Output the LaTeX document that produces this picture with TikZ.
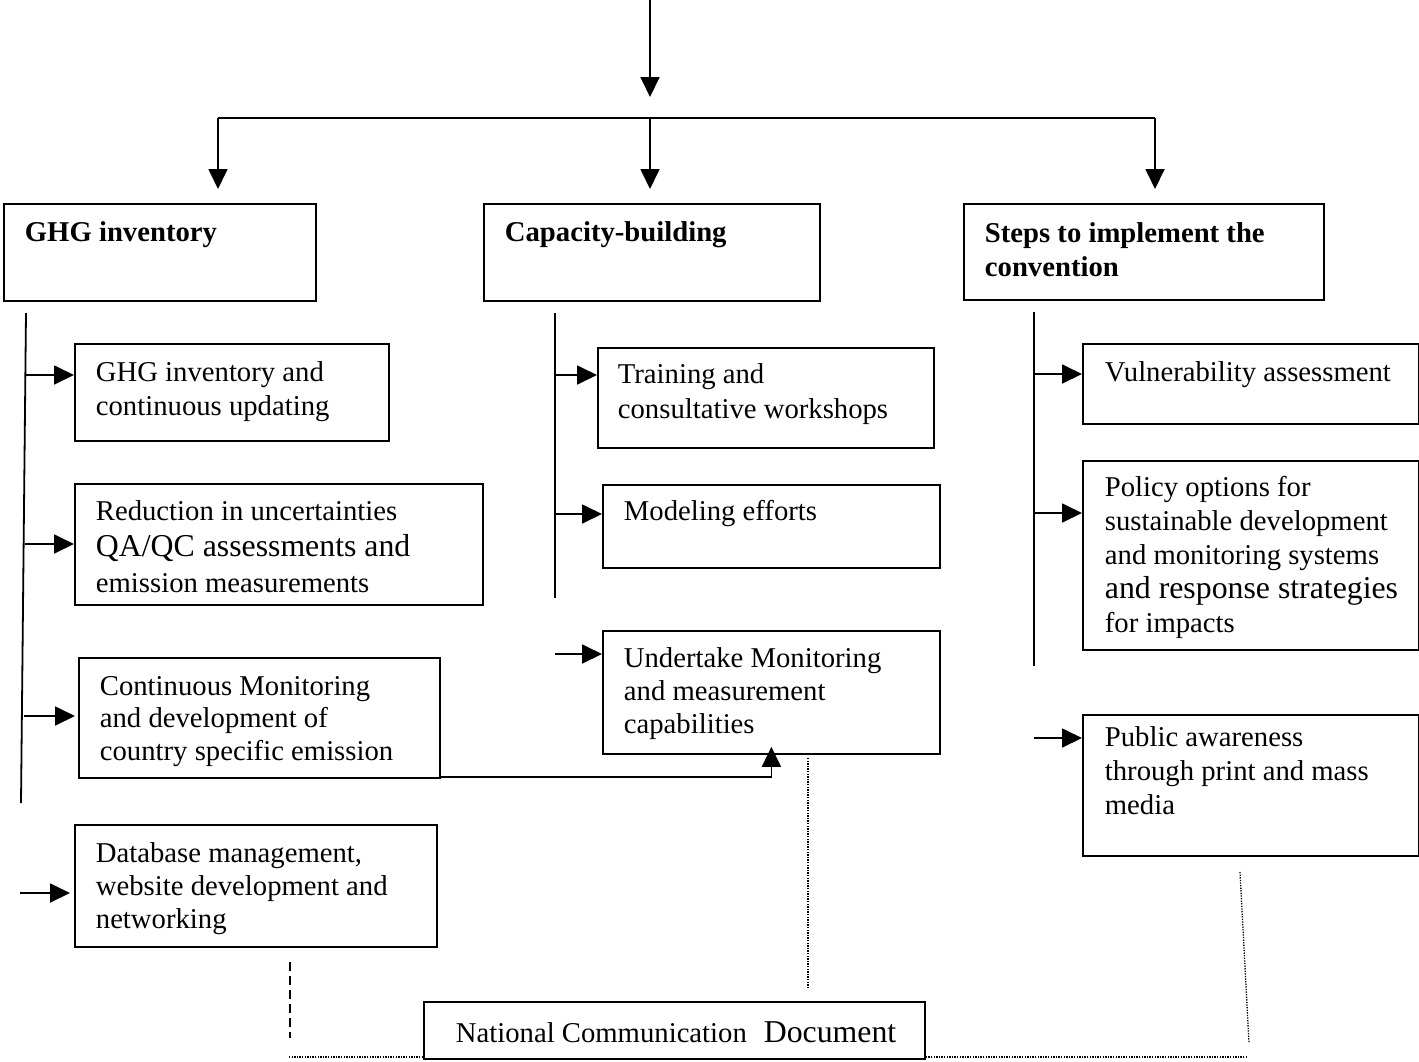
\documentclass[tikz,border=0pt]{standalone}
\usepackage{fontspec}
\setmainfont{Liberation Serif}
\usetikzlibrary{arrows.meta}
\newcommand{\tlines}[2]{\parbox[t]{420pt}{\raggedright\baselineskip=#1pt #2}}
\newcommand{\bigline}{\fontsize{31.8}{36}\selectfont}
\begin{document}
\begin{tikzpicture}[x=1pt,y=-1pt,line width=1.8pt,
  bx/.style={draw,line width=1.8pt,inner sep=0pt,anchor=north west},
  tx/.style={anchor=base west,inner sep=0pt,font=\fontsize{28.7}{34}\selectfont},
  hd/.style={anchor=base west,inner sep=0pt,font=\fontsize{28.7}{34}\selectfont\bfseries},
  arr/.style={-{Triangle[length=20pt,width=19pt]}},
  dotln/.style={line width=1.3pt,dash pattern=on 1.3pt off 1.3pt},
  dashln/.style={line width=1.5pt,dash pattern=on 9pt off 5pt}]
\useasboundingbox (0,0) rectangle (1419,1061);

% top distribution
\coordinate (src) at (650,0);
\coordinate (srcend) at (650,97);
\coordinate (hl) at (218,118);
\coordinate (hm) at (650,118);
\coordinate (hr) at (1155,118);
\draw[arr] (src) -- (srcend);
\draw (hl) -- (hr);

% heading boxes
\node[bx,minimum width=312pt,minimum height=97pt] (g0) at (3,203) {};
\node[hd] (g0t) at (24,241) {GHG inventory};
\node[bx,minimum width=336pt,minimum height=97pt] (c0) at (483,203) {};
\node[hd] (c0t) at (504,241) {Capacity-building};
\node[bx,minimum width=360pt,minimum height=96pt] (s0) at (963,203) {};
\node[hd] (s0t) at (984,242) {\tlines{34}{Steps to implement the\\convention}};

\draw[arr] (hl) -- ([yshift=14pt]g0.north -| hl);
\draw[arr] (hm) -- ([yshift=14pt]c0.north -| hm);
\draw[arr] (hr) -- ([yshift=14pt]s0.north -| hr);

% left column
\coordinate (lt) at (26,313);
\coordinate (lb) at (21,803);
\draw (lt) -- (lb);
\node[bx,minimum width=314pt,minimum height=97pt] (g1) at (74,343) {};
\node[tx] (g1t) at (95,381) {\tlines{34}{GHG inventory and\\continuous updating}};
\node[bx,minimum width=408pt,minimum height=121pt] (g2) at (74,483) {};
\node[tx] (g2t) at (95,520) {\tlines{36}{Reduction in uncertainties\\{\bigline QA/QC assessments and}\\emission measurements}};
\node[bx,minimum width=361pt,minimum height=120pt] (g3) at (78,657) {};
\node[tx] (g3t) at (99,695) {\tlines{32.5}{Continuous Monitoring\\and development of\\country specific emission}};
\node[bx,minimum width=362pt,minimum height=122pt] (g4) at (74,824) {};
\node[tx] (g4t) at (95,862) {\tlines{33}{Database management,\\website development and\\networking}};

\draw[arr] (25.4,375) -- ([yshift=-32pt]g1.north west);
\draw[arr] (24.8,544) -- ([yshift=-61pt]g2.north west);
\draw[arr] (24,716) -- ([xshift=-3pt,yshift=-59pt]g3.north west);
\draw[arr] (20,893) -- ([xshift=-4pt,yshift=-69pt]g4.north west);

% middle column
\coordinate (mt) at (555,313);
\coordinate (mb) at (555,598);
\draw (mt) -- (mb);
\node[bx,minimum width=336pt,minimum height=100pt] (c1) at (597,347) {};
\node[tx] (c1t) at (617,383) {\tlines{35}{Training and\\consultative workshops}};
\node[bx,minimum width=337pt,minimum height=83pt] (c2) at (602,484) {};
\node[tx] (c2t) at (623,520) {Modeling efforts};
\node[bx,minimum width=337pt,minimum height=123pt] (c3) at (602,630) {};
\node[tx] (c3t) at (623,667) {\tlines{33}{Undertake Monitoring\\and measurement\\capabilities}};

\draw[arr] (555,375) -- ([yshift=-28pt]c1.north west);
\draw[arr] (555,514) -- ([yshift=-30pt]c2.north west);
\draw[arr] (555,654) -- ([yshift=-24pt]c3.north west);
\draw[arr] ([yshift=2pt]g3.south east) -| ([yshift=8pt]c3.south);

% right column
\coordinate (rt) at (1034,312);
\coordinate (rb) at (1034,666);
\draw (rt) -- (rb);
\node[bx,minimum width=336pt,minimum height=80pt] (s1) at (1082,343) {};
\node[tx] (s1t) at (1104,381) {Vulnerability assessment};
\node[bx,minimum width=336pt,minimum height=189pt] (s2) at (1082,460) {};
\node[tx] (s2t) at (1104,496) {\tlines{34}{Policy options for\\sustainable development\\and monitoring systems\\{\bigline and response strategies}\\for impacts}};
\node[bx,minimum width=336pt,minimum height=141pt] (s3) at (1082,714) {};
\node[tx] (s3t) at (1104,746) {\tlines{34}{Public awareness\\through print and mass\\media}};

\draw[arr] (1034,374) -- ([yshift=-31pt]s1.north west);
\draw[arr] (1034,513) -- ([yshift=-53pt]s2.north west);
\draw[arr] (1034,738) -- ([yshift=-24pt]s3.north west);

% bottom document
\node[bx,minimum width=501pt,minimum height=57pt] (nc) at (423,1001) {};
\node[tx] (nct) at (455,1042) {National Communication\hspace{17pt}{\bigline Document}};

\coordinate (d1a) at (808,758);
\coordinate (d1b) at (808,987);
\draw[dotln] (d1a) -- (d1b);
\coordinate (d2a) at (1240,872);
\coordinate (d2b) at (1249,1043);
\draw[dotln] (d2a) -- (d2b);
\coordinate (d3a) at (290,962);
\coordinate (d3b) at (290,1038);
\draw[dashln] (d3a) -- (d3b);
\coordinate (d4a) at (289,1057);
\coordinate (d4b) at (1248,1057);
\draw[dotln] (d4a) -- (nc.south west |- d4a);
\draw[dotln] (nc.south east |- d4a) -- (d4b);
\end{tikzpicture}
\end{document}
